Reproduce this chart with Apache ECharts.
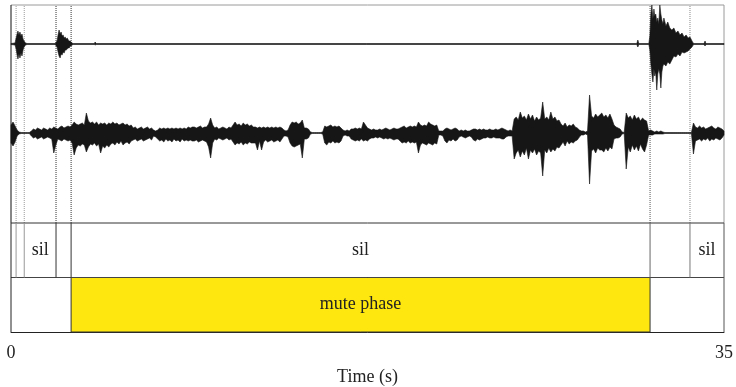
<!DOCTYPE html>
<html><head><meta charset="utf-8">
<script src="https://cdn.jsdelivr.net/npm/echarts@6/dist/echarts.min.js"></script>
<style>html,body{margin:0;padding:0;background:#fff}#c{width:736px;height:387px}</style>
</head><body><div id="c"></div>
<script>
// ---- data ----
const midStep = 0.1; // seconds between envelope samples
const midUp = [
8,11,7,3,1,0.5,0.5,0.5,0.5,0.5,
2,4,3,5,4,3,5,4,3,5,
4,6,5,4,6,7,5,6,7,6,
8,11,9,8,9,10,8,20,12,10,
11,9,11,8,10,9,10,8,10,9,
11,9,10,8,9,10,8,9,7,8,
5,6,4,5,6,4,5,6,4,5,
3,2,3,5,4,5,4,5,4,5,
4,5,4,5,4,5,4,6,5,6,
6,5,6,7,5,6,6,9,15,8,
5,6,4,5,6,5,4,6,5,8,
11,8,9,7,10,8,9,7,8,6,
6,5,6,5,6,5,6,5,6,5,
6,5,6,5,3,2,3,8,11,10,
11,9,10,13,5,5,4,1,0.5,0.5,
0.5,0.5,0.5,1,7,6,7,8,6,7,
6,7,5,3,2,3,2,4,4,5,
4,5,4,11,8,5,4,3,4,3,
3,4,3,4,5,4,3,4,5,4,
4,5,6,7,5,6,7,6,7,6,
11,8,7,8,7,11,9,8,7,8,
2,2,2,4,5,4,3,4,5,4,
2,3,2,3,2,2,3,4,4,3,
4,3,4,3,3,4,3,3,4,3,
4,5,4,3,2,3,2,14,16,13,
21,15,17,13,19,14,18,12,16,13,
15,31,14,16,13,21,14,16,12,13,
9,7,10,6,8,7,9,6,5,3,
2,2,1,2,38,17,15,19,16,18,
20,16,18,15,19,14,8,6,5,4,
1,0.5,20,15,17,13,18,14,16,12,
15,13,12,2,3,2,1,2,1,2,
1,0.5,0.5,0.5,0.5,0.5,0.5,0.5,0.5,0.5,
0.5,0.5,0.5,0.5,0.5,10,6,5,7,5,
6,4,5,6,7,5,4,6,5,4,2];
const midDown = [
10,13,9,3,1,0.5,0.5,0.5,0.5,0.5,
3,5,4,6,5,4,6,5,4,5,
6,20,12,6,7,8,6,7,8,7,
10,22,15,12,13,11,12,19,14,11,
12,10,13,11,20,13,15,12,14,11,
10,12,9,11,8,12,10,9,11,8,
7,6,8,7,6,8,7,6,5,7,
3,4,6,8,7,9,6,8,7,9,
6,8,7,9,6,8,7,8,7,8,
8,7,9,8,7,8,9,14,25,10,
6,7,5,6,7,6,5,7,6,9,
12,10,11,9,12,10,11,9,10,10,
10,17,8,17,9,7,9,8,7,9,
8,7,9,6,3,3,4,10,13,14,
13,12,11,25,6,6,5,1,0.5,0.5,
0.5,0.5,0.5,1,10,12,9,10,8,10,
9,10,8,3,2,3,3,6,7,8,
7,8,6,8,7,8,6,5,5,4,
5,4,5,6,5,6,5,6,7,6,
6,8,10,9,10,8,10,9,10,9,
20,12,10,11,12,10,11,12,10,11,
2,2,3,8,10,7,8,6,8,7,
4,3,4,5,4,3,4,7,8,6,
7,6,5,5,4,5,5,4,5,5,
5,6,6,4,3,3,3,26,20,17,
24,18,22,15,26,17,20,16,22,18,
20,43,17,20,15,19,16,18,14,15,
12,9,13,8,11,9,10,8,7,4,
2,2,1,2,51,18,16,20,15,17,
17,19,15,18,14,16,6,5,5,4,
1,0.5,36,14,19,12,17,13,18,11,
16,19,12,2,2,2,1,1,1,1,
1,0.5,0.5,0.5,0.5,0.5,0.5,0.5,0.5,0.5,
0.5,0.5,0.5,0.5,0.5,21,8,7,6,8,
6,7,5,8,6,7,5,6,7,5,2];

const topT = [0,0.2,0.25,0.3,0.34,0.39,0.44,0.49,0.54,0.59,0.64,0.71,0.79,
2.17,2.26,2.31,2.36,2.41,2.46,2.51,2.56,2.61,2.66,2.71,2.76,2.81,2.86,2.9,2.95,3.0,3.05,
4.09,4.13,4.18,
30.72,30.77,30.82,
31.31,31.36,31.41,31.46,31.51,31.56,31.6,31.65,31.7,31.75,31.8,31.85,31.9,31.95,32.0,32.05,32.15,32.24,32.34,32.44,32.54,32.64,32.74,32.84,32.94,33.04,33.14,33.24,33.33,33.43,33.48,33.53,
34.02,34.07,34.11,35];
const topUp = [0.5,1,6,10,13,9,12,8,10,5,3,1,0.5,
0.5,3,9,14,10,12,8,9,6,7,5,6,4,3,3,2,1,0.5,
0.5,2,0.5,
0.5,4,0.5,
0.5,8,30,39,25,35,28,30,22,26,20,39,30,24,20,26,18,22,16,14,16,11,13,9,11,7,9,6,7,3,1,0.5,
0.5,3,0.5,0.5];
const topDown = [0.5,1,5,11,15,10,14,9,12,6,3,1,0.5,
0.5,3,8,12,14,10,11,8,9,6,6,5,4,4,2,2,1,0.5,
0.5,1,0.5,
0.5,3,0.5,
0.5,6,20,30,38,25,32,28,46,30,25,30,44,28,22,20,22,18,20,16,12,13,10,12,8,9,8,7,5,3,1,0.5,
0.5,2,0.5,0.5];

const tierBounds = [0, 0.25, 0.65, 2.21, 2.95, 31.37, 33.33, 35];
const tierLabels = ['', '', 'sil', '', 'sil', '', 'sil'];
const mutePhase = [2.95, 31.37];
const muteLabel = 'mute phase';
const xRange = [0, 35];
const xName = 'Time (s)';

// ---- chart ----
const midT = midUp.map((_, i) => i * midStep);
const SERIF = '"Liberation Serif", "DejaVu Serif", serif';
const L = 11, W = 713;

function waveRender(times, up, down) {
  return function (params, api) {
    const pts = [];
    for (let i = 0; i < times.length; i++) pts.push(api.coord([times[i], up[i]]));
    for (let i = times.length - 1; i >= 0; i--) pts.push(api.coord([times[i], -down[i]]));
    return { type: 'polygon', shape: { points: pts },
      style: { fill: '#161616', stroke: '#161616', lineWidth: 0.6 } };
  };
}

function frameRender(params, api) {
  const ch = [];
  const line = (a, b, color, dash, w) => {
    const p1 = api.coord(a), p2 = api.coord(b);
    ch.push({ type: 'line', shape: { x1: p1[0], y1: p1[1], x2: p2[0], y2: p2[1] },
      style: { stroke: color, lineWidth: w || 1, lineDash: dash || null } });
  };
  const inner = tierBounds.slice(1, -1);
  const cols = ['#9a9a9a', '#9a9a9a', '#333', '#333', '#555', '#888'];
  inner.forEach((t, i) => line([t, 0], [t, 1], cols[i], [1, 1]));
  line([xRange[0], 1], [xRange[1], 1], '#9a9a9a');
  line([xRange[0], 0], [xRange[0], 1], '#111');
  line([xRange[1], 0], [xRange[1], 1], '#9a9a9a');
  return { type: 'group', children: ch };
}

function tierRender(params, api) {
  const ch = [];
  const line = (a, b, color, w) => {
    const p1 = api.coord(a), p2 = api.coord(b);
    ch.push({ type: 'line', shape: { x1: p1[0], y1: p1[1], x2: p2[0], y2: p2[1] },
      style: { stroke: color, lineWidth: w || 1 } });
  };
  const m0 = api.coord([mutePhase[0], 1]), m1 = api.coord([mutePhase[1], 0]);
  ch.push({ type: 'rect', shape: { x: m0[0], y: m0[1], width: m1[0] - m0[0], height: m1[1] - m0[1] },
    style: { fill: '#FDE70E', stroke: '#333', lineWidth: 1 } });
  const mc = api.coord([(mutePhase[0] + mutePhase[1]) / 2, 0.5]);
  ch.push({ type: 'text', style: { text: muteLabel, x: mc[0], y: mc[1], align: 'center', verticalAlign: 'middle',
    font: '18px ' + SERIF, fill: '#222' } });
  line([xRange[0], 2], [xRange[1], 2], '#333');
  line([xRange[0], 1], [xRange[1], 1], '#444');
  line([xRange[0], 0], [xRange[0], 2], '#222');
  line([xRange[1], 0], [xRange[1], 2], '#555');
  const cols = ['#999', '#999', '#333', '#333', '#666', '#777'];
  tierBounds.slice(1, -1).forEach((t, i) => line([t, 1], [t, 2], cols[i]));
  for (let i = 0; i < tierLabels.length; i++) {
    if (!tierLabels[i]) continue;
    const c = api.coord([(tierBounds[i] + tierBounds[i + 1]) / 2, 1.5]);
    ch.push({ type: 'text', style: { text: tierLabels[i], x: c[0], y: c[1], align: 'center', verticalAlign: 'middle',
      font: '18px ' + SERIF, fill: '#222' } });
  }
  return { type: 'group', children: ch };
}

const hiddenX = (gi) => ({ gridIndex: gi, type: 'value', min: xRange[0], max: xRange[1], show: false });
const chart = echarts.init(document.getElementById('c'), null, { renderer: 'canvas' });
chart.setOption({
  animation: false,
  backgroundColor: '#fff',
  grid: [
    { left: L, width: W, top: 5, height: 83 },
    { left: L, width: W, top: 88, height: 135 },
    { left: L, width: W, top: 223, height: 110 },
    { left: L, width: W, top: 5, height: 218 }
  ],
  xAxis: [
    hiddenX(0), hiddenX(1),
    { gridIndex: 2, type: 'value', min: xRange[0], max: xRange[1], interval: xRange[1] - xRange[0],
      axisLine: { show: true, lineStyle: { color: '#222', width: 1 } },
      axisTick: { show: false }, splitLine: { show: false },
      axisLabel: { show: true, margin: 12, color: '#222', fontSize: 18, fontFamily: SERIF, showMaxLabel: true, showMinLabel: true },
      name: xName, nameLocation: 'middle', nameGap: 36,
      nameTextStyle: { color: '#222', fontSize: 18, fontFamily: SERIF } },
    hiddenX(3)
  ],
  yAxis: [
    { gridIndex: 0, type: 'value', min: -44, max: 39, show: false },
    { gridIndex: 1, type: 'value', min: -90, max: 45, show: false },
    { gridIndex: 2, type: 'value', min: 0, max: 2, show: false },
    { gridIndex: 3, type: 'value', min: 0, max: 1, show: false }
  ],
  series: [
    { type: 'custom', xAxisIndex: 3, yAxisIndex: 3, renderItem: frameRender, data: [[0, 0]], clip: false, z: 1, silent: true },
    { type: 'custom', xAxisIndex: 0, yAxisIndex: 0, renderItem: waveRender(topT, topUp, topDown), data: [[0, 0]], clip: false, z: 2, silent: true },
    { type: 'custom', xAxisIndex: 1, yAxisIndex: 1, renderItem: waveRender(midT, midUp, midDown), data: [[0, 0]], clip: false, z: 2, silent: true },
    { type: 'custom', xAxisIndex: 2, yAxisIndex: 2, renderItem: tierRender, data: [[0, 0]], clip: false, z: 3, silent: true }
  ]
});
</script></body></html>
